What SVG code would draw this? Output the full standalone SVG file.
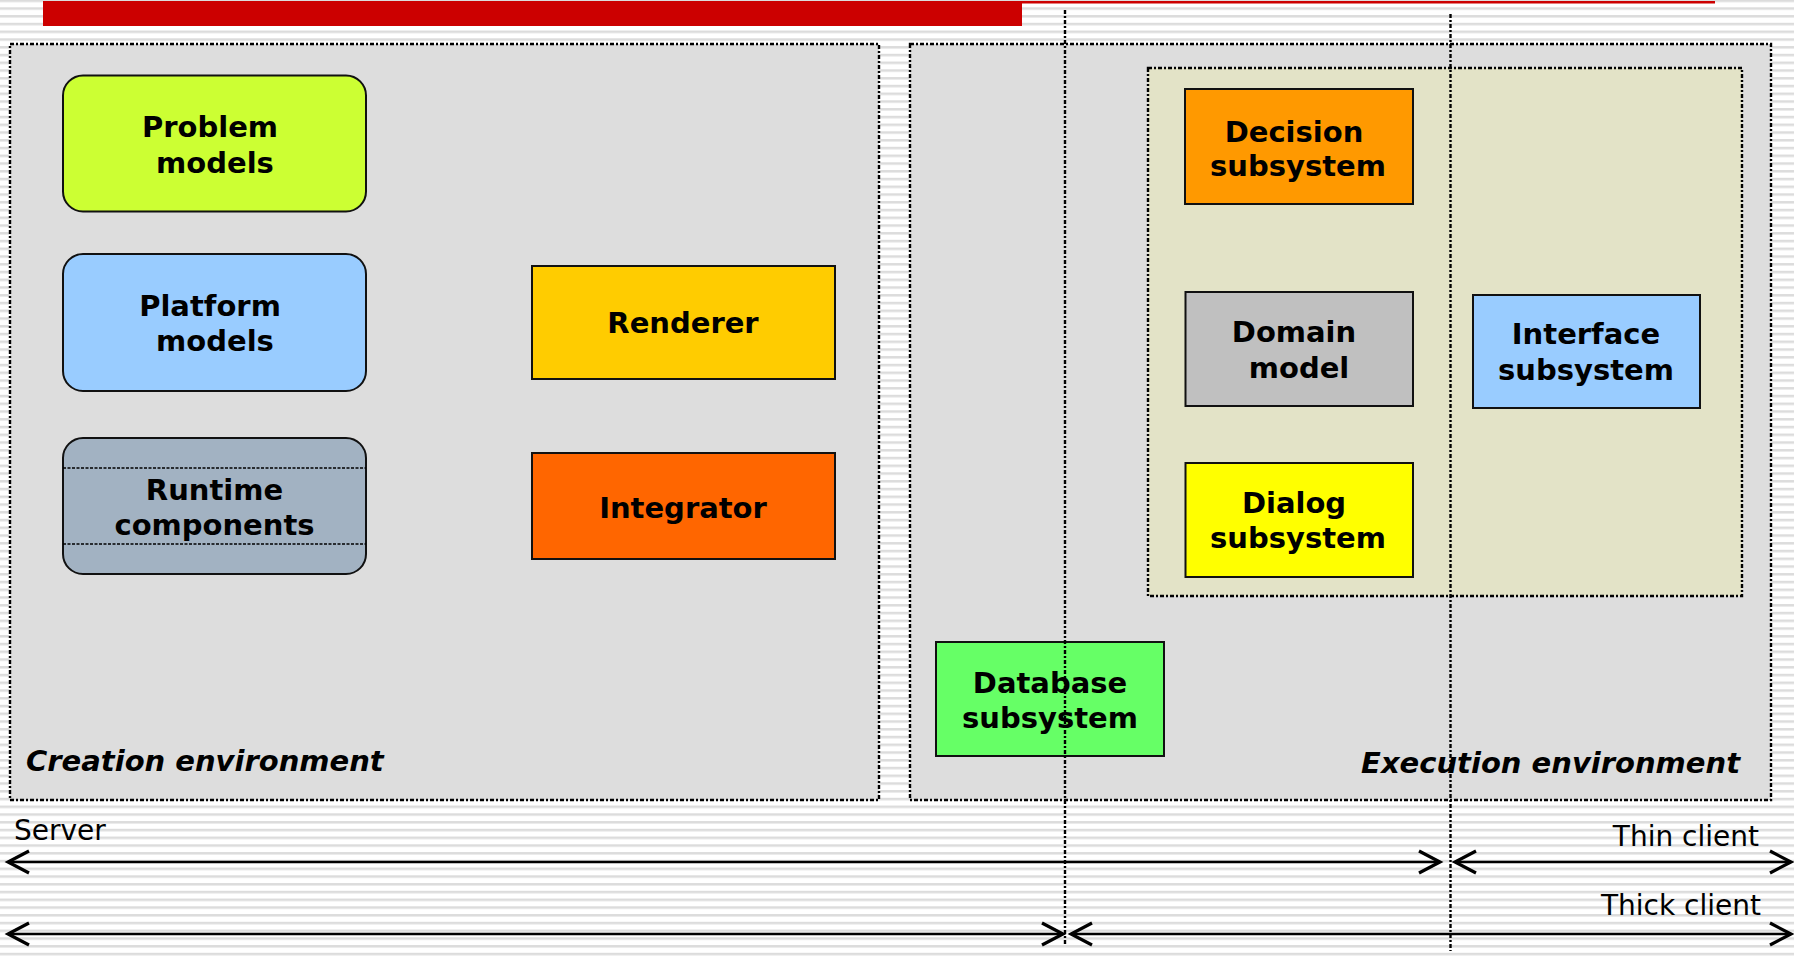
<svg xmlns="http://www.w3.org/2000/svg" width="1794" height="956" viewBox="0 0 1794 956">
  <defs>
    <!-- horizontal ruled background -->
    <pattern id="ruled" patternUnits="userSpaceOnUse" x="0" y="7.3" width="8" height="7.75">
      <rect width="8" height="7.75" fill="#ffffff"/>
      <rect width="8" height="2.5" fill="#dcdcdc"/>
    </pattern>
    <!-- open chevron arrowhead -->
    <marker id="chev" markerUnits="userSpaceOnUse" markerWidth="28" markerHeight="28" refX="23" refY="13" orient="auto-start-reverse" overflow="visible">
      <path d="M2,2 L23,13 L2,24" fill="none" stroke="#000" stroke-width="3.2" stroke-linejoin="miter"/>
    </marker>
    <style>
      .panel { fill: #dddddd; stroke: #000; stroke-width: 2.4; stroke-dasharray: 4 2 2 2; }
      .inner { fill: #e3e3c7; stroke: #000; stroke-width: 2.4; stroke-dasharray: 4 2 2 2; }
      .box { stroke: #111; stroke-width: 2; }
      .lbl { font-family: "DejaVu Sans", Verdana, sans-serif; font-weight: bold; font-size: 29px; fill: #000; text-anchor: middle; }
      .env { font-family: "DejaVu Sans", Verdana, sans-serif; font-weight: bold; font-style: italic; font-size: 29px; fill: #000; }
      .tier { font-family: "DejaVu Sans", Verdana, sans-serif; font-size: 28px; fill: #000; }
      .span { fill: none; stroke: #000; stroke-width: 2.5; marker-start: url(#chev); marker-end: url(#chev); }
      .divider { fill: none; stroke: #000; stroke-width: 2.4; stroke-dasharray: 4 2 2 2; }
      .band { fill: none; stroke: #000; stroke-width: 1.6; stroke-dasharray: 3 1.5; }
    </style>
  </defs>

  <!-- background -->
  <rect x="0" y="0" width="1794" height="956" fill="url(#ruled)"/>
  <rect x="43" y="1" width="979" height="25" fill="#cc0000"/>
  <rect x="1022" y="1" width="693" height="2.5" fill="#cc0000"/>

  <!-- environments -->
  <g id="creation-environment">
    <rect class="panel" x="10" y="44" width="869" height="756"/>
    <text class="env" x="26" y="771">Creation environment</text>
  </g>
  <g id="execution-environment">
    <rect class="panel" x="910" y="44" width="861" height="756"/>
    <rect class="inner" x="1148" y="68" width="594" height="528"/>
    <text class="env" x="1740" y="773" text-anchor="end">Execution environment</text>
  </g>

  <!-- creation-side nodes -->
  <g id="problem-models">
    <rect class="box" x="63" y="75.5" width="303" height="136" rx="20" fill="#ccff33"/>
    <text class="lbl" x="210" y="137">Problem</text>
    <text class="lbl" x="215" y="173">models</text>
  </g>
  <g id="platform-models">
    <rect class="box" x="63" y="254" width="303" height="137" rx="20" fill="#99ccff"/>
    <text class="lbl" x="210" y="316">Platform</text>
    <text class="lbl" x="215" y="351">models</text>
  </g>
  <g id="runtime-components">
    <rect class="box" x="63" y="438" width="303" height="136" rx="20" fill="#a2b2c2"/>
    <line class="band" x1="63" y1="468" x2="366" y2="468"/>
    <line class="band" x1="63" y1="544" x2="366" y2="544"/>
    <text class="lbl" x="214.5" y="500">Runtime</text>
    <text class="lbl" x="214.5" y="535">components</text>
  </g>
  <g id="renderer">
    <rect class="box" x="532" y="266" width="303" height="113" fill="#ffcc00"/>
    <text class="lbl" x="683" y="333">Renderer</text>
  </g>
  <g id="integrator">
    <rect class="box" x="532" y="453" width="303" height="106" fill="#ff6600"/>
    <text class="lbl" x="683" y="518">Integrator</text>
  </g>

  <!-- execution-side nodes -->
  <g id="decision-subsystem">
    <rect class="box" x="1185" y="89" width="228" height="115" fill="#ff9900"/>
    <text class="lbl" x="1294" y="142">Decision</text>
    <text class="lbl" x="1298" y="176">subsystem</text>
  </g>
  <g id="domain-model">
    <rect class="box" x="1185.5" y="292" width="227.5" height="114" fill="#c0c0c0"/>
    <text class="lbl" x="1294" y="342">Domain</text>
    <text class="lbl" x="1299" y="378">model</text>
  </g>
  <g id="dialog-subsystem">
    <rect class="box" x="1185.5" y="463" width="227.5" height="114" fill="#ffff00"/>
    <text class="lbl" x="1294" y="513">Dialog</text>
    <text class="lbl" x="1298" y="548">subsystem</text>
  </g>
  <g id="interface-subsystem">
    <rect class="box" x="1473" y="295" width="227" height="113" fill="#99ccff"/>
    <text class="lbl" x="1586" y="344">Interface</text>
    <text class="lbl" x="1586" y="380">subsystem</text>
  </g>
  <g id="database-subsystem">
    <rect class="box" x="936" y="642" width="228" height="114" fill="#66ff66"/>
    <text class="lbl" x="1050" y="693">Database</text>
    <text class="lbl" x="1050" y="728">subsystem</text>
  </g>

  <!-- tier spans and boundaries -->
  <g id="connectors">
    <line class="divider" x1="1065" y1="10" x2="1065" y2="945"/>
    <line class="divider" x1="1450.5" y1="14" x2="1450.5" y2="951"/>
    <line class="span" x1="8" y1="862" x2="1440" y2="862"/>
    <line class="span" x1="1455" y1="862" x2="1791" y2="862"/>
    <line class="span" x1="8" y1="934" x2="1063" y2="934"/>
    <line class="span" x1="1071" y1="934" x2="1791" y2="934"/>
  </g>
  <g id="tier-labels">
    <text class="tier" x="14" y="840">Server</text>
    <text class="tier" x="1759" y="846" text-anchor="end">Thin client</text>
    <text class="tier" x="1761" y="915" text-anchor="end">Thick client</text>
  </g>
</svg>
